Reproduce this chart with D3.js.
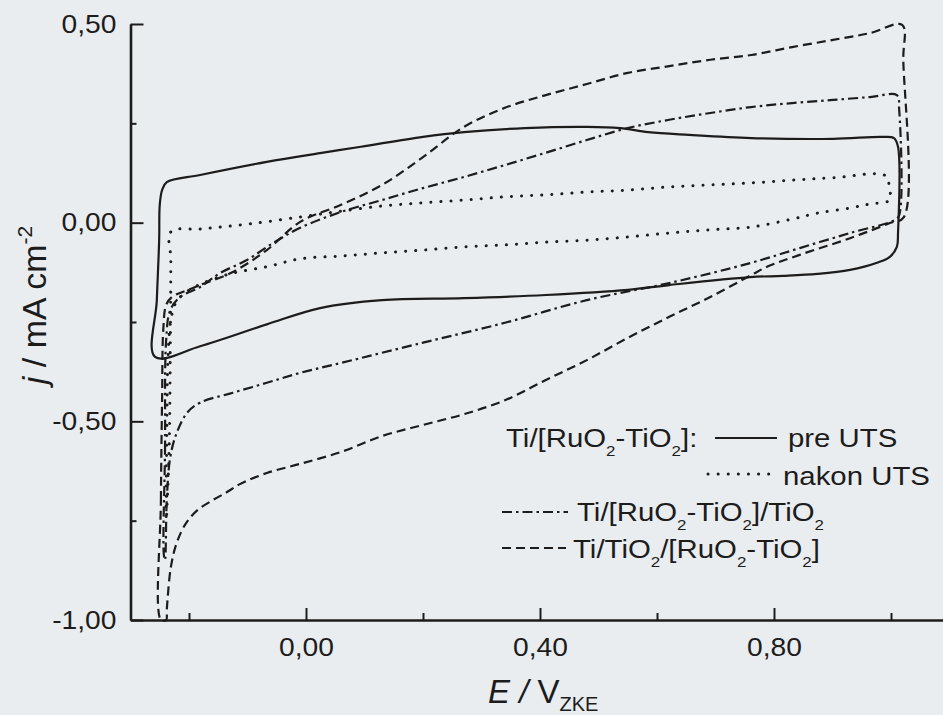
<!DOCTYPE html>
<html>
<head>
<meta charset="utf-8">
<script src="https://cdn.jsdelivr.net/npm/d3@7"></script>
<style>
  body { margin: 0; background: #eaedf0; }
  svg { display: block; }
  text { font-family: "Liberation Sans", Arial, sans-serif; fill: #1c1c1c; }
</style>
</head>
<body>
<svg id="chart" width="943" height="715"></svg>
<script>
// cyclic voltammograms, [E / V, j / mA cm-2]
var preUTS = [
  [-0.258,-0.338],[-0.255,-0.195],[-0.251,-0.044],[-0.250,0.045],[-0.246,0.082],[-0.238,0.102],
  [-0.181,0.120],[-0.067,0.153],[0.024,0.175],[0.094,0.191],[0.200,0.216],[0.270,0.228],
  [0.374,0.238],[0.480,0.241],[0.537,0.238],[0.585,0.228],[0.655,0.221],[0.761,0.213],
  [0.901,0.211],[0.985,0.216],[1.005,0.213],[1.012,0.191],[1.012,-0.026],[1.010,-0.061],
  [0.998,-0.086],[0.976,-0.101],[0.930,-0.119],[0.874,-0.129],[0.815,-0.134],[0.759,-0.137],
  [0.621,-0.157],[0.550,-0.169],[0.410,-0.182],[0.270,-0.190],[0.130,-0.195],[0.024,-0.215],
  [-0.067,-0.256],[-0.181,-0.311]
];
var nakonUTS = [
  [-0.231,-0.023],[-0.181,-0.016],[-0.096,-0.003],[0.012,0.019],[0.060,0.029],[0.130,0.042],
  [0.200,0.050],[0.270,0.057],[0.340,0.065],[0.410,0.070],[0.480,0.077],[0.550,0.082],
  [0.621,0.090],[0.691,0.095],[0.761,0.100],[0.831,0.107],[0.901,0.113],[0.991,0.118],
  [0.997,0.087],[0.998,0.057],[0.964,0.047],[0.930,0.037],[0.874,0.024],[0.831,0.009],
  [0.761,-0.011],[0.691,-0.018],[0.621,-0.026],[0.550,-0.036],[0.480,-0.044],[0.410,-0.049],
  [0.340,-0.056],[0.270,-0.061],[0.200,-0.069],[0.130,-0.076],[0.060,-0.084],[-0.010,-0.091],
  [-0.067,-0.111],[-0.125,-0.127],[-0.176,-0.152],[-0.207,-0.177],[-0.222,-0.200],[-0.231,-0.245],
  [-0.236,-0.346],[-0.238,-0.547],[-0.239,-0.749],[-0.234,-0.573],[-0.232,-0.320],[-0.231,-0.094]
];
var ruTiTiO2 = [
  [-0.243,-0.836],[-0.241,-0.573],[-0.239,-0.295],[-0.232,-0.220],[-0.215,-0.187],[-0.181,-0.162],
  [-0.147,-0.127],[-0.101,-0.094],[-0.056,-0.051],[-0.010,-0.013],[0.060,0.027],[0.130,0.057],
  [0.200,0.087],[0.270,0.115],[0.340,0.145],[0.410,0.176],[0.480,0.208],[0.550,0.238],
  [0.621,0.259],[0.691,0.276],[0.761,0.291],[0.831,0.301],[0.901,0.309],[0.964,0.316],
  [1.010,0.321],[1.014,0.284],[1.014,0.019],[1.007,0.007],[0.930,-0.026],[0.844,-0.064],
  [0.761,-0.101],[0.621,-0.152],[0.480,-0.195],[0.340,-0.252],[0.200,-0.302],[0.060,-0.353],
  [-0.010,-0.378],[-0.067,-0.403],[-0.125,-0.428],[-0.181,-0.453],[-0.203,-0.478],[-0.221,-0.529],
  [-0.232,-0.590],[-0.238,-0.698],[-0.241,-0.849]
];
var tiTiO2Ru = [
  [-0.248,-1.000],[-0.248,-0.698],[-0.246,-0.446],[-0.244,-0.270],[-0.239,-0.207],[-0.229,-0.187],
  [-0.203,-0.170],[-0.181,-0.157],[-0.125,-0.124],[-0.067,-0.069],[-0.010,0.002],[0.060,0.045],
  [0.130,0.095],[0.200,0.165],[0.270,0.241],[0.340,0.289],[0.410,0.321],[0.480,0.349],
  [0.550,0.377],[0.621,0.394],[0.691,0.410],[0.761,0.422],[0.831,0.442],[0.901,0.460],
  [0.964,0.477],[1.019,0.498],[1.021,0.410],[1.022,0.014],[0.998,-0.001],[0.930,-0.039],
  [0.844,-0.081],[0.788,-0.111],[0.761,-0.132],[0.691,-0.187],[0.621,-0.237],[0.550,-0.290],
  [0.480,-0.346],[0.410,-0.396],[0.340,-0.447],[0.270,-0.482],[0.200,-0.509],[0.130,-0.537],
  [0.060,-0.577],[-0.010,-0.607],[-0.067,-0.630],[-0.113,-0.658],[-0.135,-0.678],[-0.159,-0.698],
  [-0.185,-0.723],[-0.205,-0.756],[-0.221,-0.806],[-0.231,-0.867],[-0.238,-0.975],[-0.239,-1.000]
];

var xMajor = [0, 0.4, 0.8];
var xMinor = [-0.2, 0.2, 0.6, 1.0];
var yMajor = [-1, -0.5, 0, 0.5];
var yMinor = [-0.75, -0.25, 0.25];

const svg = d3.select("#chart");
const ink = "#1c1c1c";
const stretch = 1.13; // scan is a bit wider than tall

const x = d3.scaleLinear().domain([-0.3, 1.4]).range([130.5, 1125]);
const y = d3.scaleLinear().domain([-1, 0.5]).range([620, 24]);

const fmt = d => d3.format(".2f")(d).replace(".", ",").replace("\u2212", "-");

// minor ticks first, then major with labels
svg.append("g").attr("transform", `translate(0,${y(-1)})`)
  .call(d3.axisBottom(x).tickValues(xMinor).tickSize(-7).tickFormat(""))
  .call(g => g.select(".domain").remove());
svg.append("g").attr("transform", `translate(${x(-0.3)},0)`)
  .call(d3.axisLeft(y).tickValues(yMinor).tickSize(-6).tickFormat(""))
  .call(g => g.select(".domain").remove());

const xAxis = svg.append("g").attr("transform", `translate(0,${y(-1)})`)
  .call(d3.axisBottom(x).tickValues(xMajor).tickSize(-12).tickSizeOuter(0).tickPadding(18).tickFormat(fmt));
const yAxis = svg.append("g").attr("transform", `translate(${x(-0.3)},0)`)
  .call(d3.axisLeft(y).tickValues(yMajor).tickSize(-13).tickSizeOuter(0).tickPadding(12.4).tickFormat(fmt));

svg.selectAll(".tick line").attr("stroke", ink).attr("stroke-width", 2);
[xAxis, yAxis].forEach(a => {
  a.select(".domain").attr("stroke", ink).attr("stroke-width", 2.6);
  a.selectAll("text").attr("font-size", 25).attr("fill", ink)
    .attr("font-family", "Liberation Sans, Arial, sans-serif")
    .attr("transform", `scale(${stretch},1)`);
});

// curves
const line = d3.line()
  .x(d => x(d[0])).y(d => y(d[1]))
  .curve(d3.curveCatmullRomClosed.alpha(0.5));

const series = [
  {data: preUTS, dash: null, w: 2.2},
  {data: nakonUTS, dash: "0.1,10", w: 3, cap: "round"},
  {data: ruTiTiO2, dash: "10,4,2.5,4", w: 2.2},
  {data: tiTiO2Ru, dash: "9,5", w: 2.2}
];
series.forEach(s => {
  svg.append("path").attr("d", line(s.data))
    .attr("fill", "none").attr("stroke", ink).attr("stroke-width", s.w)
    .attr("stroke-dasharray", s.dash).attr("stroke-linecap", s.cap || "butt");
});

// axis titles
const yt = svg.append("text").attr("transform", "translate(46,305) rotate(-90)")
  .attr("text-anchor", "middle").attr("font-size", 34);
yt.append("tspan").attr("font-style", "italic").text("j");
yt.append("tspan").text(" / mA cm");
yt.append("tspan").attr("font-size", 21).attr("dy", -14).text("-2");

const xt = svg.append("text").attr("transform", "translate(488,703)").attr("font-size", 33);
xt.append("tspan").attr("font-style", "italic").text("E / ");
xt.append("tspan").text("V");
xt.append("tspan").attr("font-size", 20).attr("dy", 8).text("ZKE");

// legend: "2" parts are set as subscripts
function chem(px, py, parts) {
  const t = svg.append("text").attr("transform", `translate(${px},${py}) scale(${stretch},1)`)
    .attr("font-size", 26);
  let low = false;
  parts.forEach(p => {
    if (p === "2") {
      t.append("tspan").attr("font-size", 15).attr("dy", 9).text("2");
      low = true;
    } else {
      t.append("tspan").attr("dy", low ? -9 : 0).text(p);
      low = false;
    }
  });
}
function sample(x1, x2, yy, s) {
  svg.append("line").attr("x1", x1).attr("x2", x2).attr("y1", yy).attr("y2", yy)
    .attr("stroke", ink).attr("stroke-width", s.w).attr("stroke-dasharray", s.dash)
    .attr("stroke-linecap", s.cap || "butt");
}
chem(506, 447, ["Ti/[RuO", "2", "-TiO", "2", "]:"]);
sample(715, 777, 438, series[0]);
chem(788, 447, ["pre UTS"]);
sample(708, 771, 474, series[1]);
chem(783, 485, ["nakon UTS"]);
sample(502, 568, 512, series[2]);
chem(577, 521, ["Ti/[RuO", "2", "-TiO", "2", "]/TiO", "2"]);
sample(502, 566, 548, series[3]);
chem(573, 558, ["Ti/TiO", "2", "/[RuO", "2", "-TiO", "2", "]"]);
</script>
</body>
</html>
